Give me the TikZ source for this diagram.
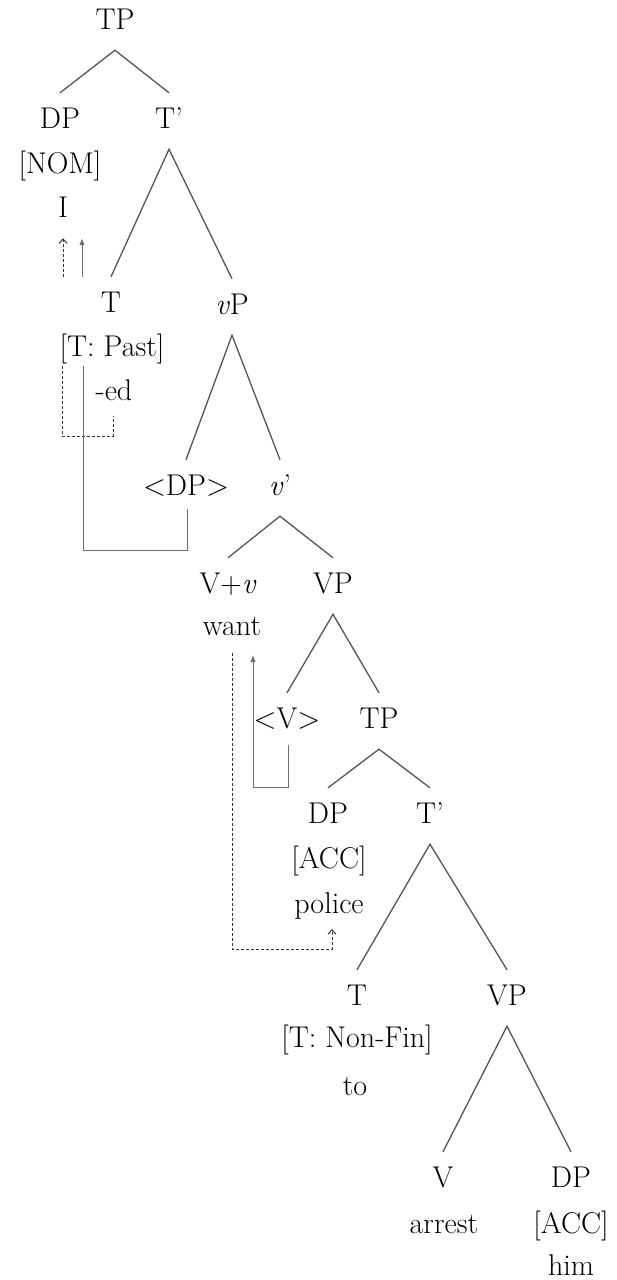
\documentclass[tikz,border=0pt]{standalone}
\usepackage{fontspec}
\usetikzlibrary{arrows.meta,calc}
\definecolor{branch}{HTML}{555555}
\definecolor{movecol}{HTML}{6E6E6E}
\begin{document}
\begin{tikzpicture}[x=1pt,y=-1pt,
  font=\fontsize{30}{34}\selectfont,
  lab/.style={anchor=base, inner xsep=2pt, inner ysep=16pt, text height=19pt, text depth=5pt},
  edge/.style={draw=branch, line width=1.3pt},
  copyline/.style={draw=movecol, line width=1pt},
  copydash/.style={draw=black!80, line width=1pt, dash pattern=on 3pt off 2pt},
  filledtip/.style={-{Latex[length=7pt,width=5.5pt]}},
  opentip/.style={-{Straight Barb[length=4.5pt,width=8pt]}}]
\useasboundingbox[fill=white] (0,0) rectangle (617,1280);

% matrix clause
\node[lab] (tp)     at (115,29)  {TP};
\node[lab] (dp1)    at (60,128)  {DP};
\node[lab] (nom)    at (60,173)  {[NOM]};
\node[lab] (i)      at (63,217)  {I};
\node[lab] (tbar1)  at (169,128) {T'};
\node[lab] (t1)     at (111,312) {T};
\node[lab] (tpast)  at (112,356) {[T: Past]};
\node[lab] (ed)     at (114,400) {-ed};
\node[lab] (vp)     at (232,314) {\textit{v}P};
\node[lab] (dpt)    at (186,495) {<DP>};
\node[lab] (vbar)   at (280,495) {\textit{v}'};
\node[lab] (vv)     at (228,593) {V+\textit{v}};
\node[lab] (want)   at (232,635) {want};
\node[lab] (vp2)    at (333,593) {VP};
\node[lab] (vt)     at (287,728) {<V>};
\node[lab] (tp2)    at (379,728) {TP};

% embedded clause
\node[lab] (dp2)    at (328,823) {DP};
\node[lab] (acc1)   at (329,868) {[ACC]};
\node[lab] (police) at (329,913) {police};
\node[lab] (tbar2)  at (430,823) {T'};
\node[lab] (t2)     at (357,1005) {T};
\node[lab] (nonfin) at (357,1047) {[T: Non-Fin]};
\node[lab] (to)     at (355,1095) {to};
\node[lab] (vp3)    at (507,1005) {VP};
\node[lab] (v3)     at (443,1187) {V};
\node[lab] (arrest) at (444,1233) {arrest};
\node[lab] (dp3)    at (571,1187) {DP};
\node[lab] (acc2)   at (571,1233) {[ACC]};
\node[lab] (him)    at (571,1275) {him};

% branches
\draw[edge] (dp1.north) -- (tp.south) -- (tbar1.north);
\draw[edge] (t1.north) -- (tbar1.south) -- (vp.north);
\draw[edge] (dpt.north) -- (vp.south) -- (vbar.north);
\draw[edge] (vv.north) -- (vbar.south) -- (vp2.north);
\draw[edge] (vt.north) -- (vp2.south) -- (tp2.north);
\draw[edge] (dp2.north) -- (tp2.south) -- (tbar2.north);
\draw[edge] (t2.north) -- (tbar2.south) -- (vp3.north);
\draw[edge] (v3.north) -- (vp3.south) -- (dp3.north);

% movement paths
\coordinate (pastL)  at (62,366);
\coordinate (pastR)  at (83,366);
\coordinate (edfoot) at (113,416);
\coordinate (dpfoot) at (187,509);
\coordinate (upL)    at (63,277);
\coordinate (upR)    at (82,277);
\coordinate (vfoot)  at (288,745);
\coordinate (wantL)  at (232,653);
\coordinate (wantR)  at (253,655);
\coordinate (polfoot) at (332,929);

\draw[copydash] (pastL) -- ++(0,70) -| (edfoot);
\draw[copyline] (pastR) -- ++(0,184) -| (dpfoot);
\draw[copydash, opentip] (upL) -- (upL |- i.south);
\draw[copyline, filledtip] (upR) -- (upR |- i.south);
\draw[copyline, filledtip] (vfoot) -- ++(0,42) -| (wantR);
\draw[copydash, opentip] (wantL) -- ++(0,296) -| (polfoot);
\end{tikzpicture}
\end{document}
